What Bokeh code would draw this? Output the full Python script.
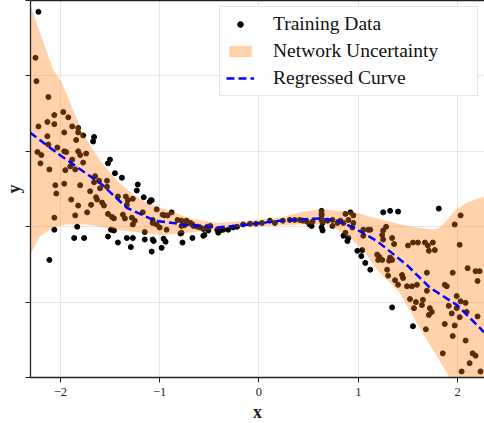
from bokeh.plotting import figure
from bokeh.models import Range1d, FixedTicker, LinearAxis, Legend, LegendItem
from bokeh.embed import file_html
from bokeh.resources import INLINE
import numpy as np

# ---- data ----
data_x = [-2.22, -2.25, -2.24, -2.12, -2.06, -1.97, -1.92, -2.13, -2.06, -2.22, -1.88, -1.82, -1.82, -1.96,
          -2.13, -1.77, -1.66, -1.67, -2.23, -2.19, -2.20, -2.11, -2.12, -2.03, -1.96, -1.94, -1.88, -1.82,
          -1.80, -1.74, -1.77, -1.84, -1.90, -1.95, -1.85, -1.50, -1.52, -1.45, -1.38, -1.22, -1.23, -1.16,
          -1.10, -1.08, -2.05, -2.04, -1.96, -1.89, -1.82, -1.80, -1.70, -1.69, -1.65, -1.61, -1.66, -1.60,
          -1.53, -1.53, -1.64, -1.42, -1.34, -1.32, -1.33, -1.27, -1.63, -1.58, -1.56, -2.06, -1.85, -1.73,
          -1.52, -1.46, -1.48, -1.37, -1.35, -1.28, -1.25, -1.27, -1.17, -1.07, -2.06, -1.83, -1.86, -1.76,
          -1.52, -1.49, -1.46, -1.42, -1.33, -1.27, -1.29, -1.15, -1.15, -1.06, -1.08, -0.96, -0.94, -0.98,
          -0.88, -0.79, -0.77, -0.67, -0.55, -0.51, -0.41, -2.11, -1.09, -1.03, -0.97, -0.95, -0.92, -0.82,
          -0.78, -0.73, -0.69, -0.67, -1.07, -1.03, -1.00, -0.93, -0.78, -0.75, -0.66, -0.62, -0.59, -0.56,
          -0.52, -0.49, -0.42, -0.39, -0.36, -1.07, -0.78, -0.56, -0.31, -0.26, -0.22, -0.16, -0.09, -0.03,
          0.03, 0.11, 0.16, 0.24, 0.31, 0.36, 0.41, 0.44, 0.48, 0.51, 0.53, 0.54, 0.63, 0.63, 0.63, 0.63,
          0.64, 0.63, 0.64, 0.69, 0.74, 0.74, 0.79, 0.82, 0.87, 0.92, 0.95, 0.90, 0.85, 0.95, 0.94, 0.87,
          0.90, 0.85, 0.89, 0.99, 1.04, 1.03, 1.07, 1.12, 1.25, 1.32, 1.40, 1.81, 2.03, 1.97, 1.05, 1.10,
          1.12, 1.05, 1.25, 1.24, 1.25, 1.28, 1.34, 1.36, 1.19, 1.21, 1.24, 1.20, 1.32, 1.34, 1.31, 1.29,
          1.30, 1.37, 1.44, 1.45, 1.40, 1.49, 1.54, 1.59, 1.50, 1.55, 1.60, 1.67, 1.70, 1.75, 1.77, 1.71,
          1.69, 1.89, 1.95, 2.02, 2.10, 2.18, 2.22, 2.20, 1.99, 1.34, 1.55, 1.68, 1.52, 1.58, 1.65, 1.64,
          1.72, 1.74, 1.71, 1.56, 1.69, 2.03, 2.08, 1.91, 1.94, 1.99, 2.09, 1.87, 1.97, 1.95, 2.08, 1.85,
          2.15, 2.18, 2.12, 2.04, 2.23, 2.20, 1.87, 2.02]
data_y = [2.85, 2.24, 1.93, 1.72, 1.48, 1.52, 1.45, 1.39, 1.36, 1.33, 1.33, 1.31, 1.25, 1.25,
          1.20, 1.21, 1.19, 1.13, 0.99, 0.95, 0.84, 0.76, 1.09, 1.05, 1.00, 0.99, 0.89, 1.00,
          0.95, 0.97, 0.85, 1.15, 0.80, 0.75, 0.76, 0.89, 0.84, 0.71, 0.65, 0.56, 0.48, 0.39,
          0.33, 0.35, 0.55, 0.44, 0.57, 0.36, 0.28, 0.55, 0.47, 0.29, 0.67, 0.61, 0.59, 0.51,
          0.61, 0.53, 0.39, 0.40, 0.40, 0.35, 0.29, 0.37, 0.36, 0.32, 0.28, 0.12, 0.15, 0.19,
          0.17, 0.11, 0.13, 0.16, 0.11, 0.12, 0.08, 0.03, 0.19, 0.09, -0.04, 0.00, -0.15, -0.15,
          -0.13, -0.04, -0.05, -0.21, -0.15, -0.15, -0.27, -0.07, -0.17, -0.19, -0.33, -0.16, -0.20, -0.28,
          0.19, -0.09, -0.21, -0.15, -0.11, -0.05, -0.08, -0.44, 0.35, 0.23, 0.16, 0.15, 0.15, 0.09,
          0.08, 0.08, 0.05, 0.03, 0.05, 0.03, -0.01, -0.04, 0.01, 0.02, 0.01, 0.00, -0.01, -0.03,
          0.00, 0.01, -0.04, -0.05, -0.04, -0.17, -0.08, -0.12, -0.04, -0.01, 0.00, 0.03, 0.04, 0.04,
          0.05, 0.08, 0.05, 0.08, 0.09, 0.09, 0.09, 0.08, 0.07, 0.03, 0.01, 0.07, 0.21, 0.17, 0.15, 0.09,
          0.05, -0.01, -0.05, 0.08, 0.09, 0.01, 0.05, 0.08, 0.17, 0.19, 0.15, 0.09, 0.05, 0.05, -0.01, -0.08,
          -0.15, -0.12, -0.19, -0.32, -0.31, -0.39, -0.48, -0.57, 0.19, 0.21, 0.20, 0.24, 0.15, 0.03, -0.04, -0.04,
          -0.04, -0.12, -0.05, -0.11, -0.17, 0.00, -0.15, -0.23, -0.37, -0.40, -0.44, -0.44, -0.41, -0.44, -0.45, -0.57,
          -0.65, -0.71, -0.64, -0.68, -0.77, -0.79, -0.79, -0.77, -0.25, -0.21, -0.21, -0.21, -0.25, -0.21, -0.31, -0.32,
          -0.61, -0.79, -0.61, -0.24, -0.55, -0.59, -0.59, -0.72, -0.92, -1.07, -1.32, -1.36, -0.96, -1.00, -0.97, -1.04,
          -1.08, -1.13, -1.17, -1.08, -0.85, -0.99, -1.01, -1.05, -1.15, -1.08, -1.13, -1.29, -1.31, -1.45, -1.51, -1.68,
          -1.68, -1.71, -1.81, -1.92, -1.92, -1.19, -0.77, -1.20]

upper_x = [-2.306, -2.075, -1.984, -1.772, -1.601, -1.430, -1.269, -1.098, -0.896, -0.695, -0.423,
           -0.091, 0.211, 0.443, 0.634, 0.786, 0.947, 1.148, 1.490, 1.752, 1.823, 1.893, 1.974, 2.095, 2.266]
upper_y = [2.95, 2.09, 1.91, 1.23, 0.88, 0.61, 0.43, 0.29, 0.21, 0.11, 0.05,
           0.08, 0.12, 0.20, 0.23, 0.21, 0.20, 0.12, 0.01, -0.04, -0.01, 0.09, 0.21, 0.32, 0.40]
lower_x = [-2.306, -2.205, -2.075, -1.934, -1.732, -1.601, -1.430, -1.198, -0.997, -0.725, -0.463,
           -0.191, 0.111, 0.443, 0.685, 0.786, 0.916, 1.047, 1.188, 1.420, 1.621, 1.772, 1.923, 2.095, 2.266]
lower_y = [-0.37, -0.13, -0.01, 0.03, 0.03, 0.00, -0.04, -0.08, -0.11, -0.08, -0.04,
           0.00, 0.01, 0.03, 0.03, -0.04, -0.15, -0.31, -0.57, -0.88, -1.35, -1.68, -2.01, -2.55, -3.08]

curve_x = [-2.306, -2.004, -1.581, -1.329, -1.047, -0.765, -0.423, -0.091, 0.211, 0.614,
           0.786, 0.947, 1.188, 1.490, 1.722, 1.994, 2.266]
curve_y = [1.25, 0.95, 0.56, 0.25, 0.08, 0.03, -0.01, 0.03, 0.08, 0.11,
           0.08, -0.01, -0.19, -0.51, -0.81, -1.04, -1.40]

x_ticks = [-2, -1, 0, 1, 2]
x_tick_labels = {-2: "\u22122", -1: "\u22121", 0: "0", 1: "1", 2: "2"}
y_ticks = [-2, -1, 0, 1, 2, 3]

# band on a common grid for varea (piecewise-linear edges)
band_x = sorted(set(upper_x) | set(lower_x))
band_hi = list(np.interp(band_x, upper_x, upper_y))
band_lo = list(np.interp(band_x, lower_x, lower_y))

SERIF = "Liberation Serif"

p = figure(frame_width=454, frame_height=377,
           x_range=Range1d(-2.30, 2.27), y_range=Range1d(-2.0, 3.0),
           output_backend="svg", toolbar_location=None,
           min_border_left=0, min_border_right=0, min_border_top=0, min_border_bottom=0,
           background_fill_color="white", border_fill_color="white")
p.outline_line_color = None

# grid
p.xgrid.ticker = FixedTicker(ticks=x_ticks)
p.ygrid.ticker = FixedTicker(ticks=y_ticks)
for g in (p.xgrid[0], p.ygrid[0]):
    g.grid_line_color = "#e6e6e6"
    g.grid_line_width = 1

# axes
xa = p.xaxis[0]
xa.ticker = FixedTicker(ticks=x_ticks)
xa.major_label_overrides = x_tick_labels
xa.axis_label = "x"
ya = p.yaxis[0]
ya.ticker = FixedTicker(ticks=y_ticks)
ya.axis_label = "y"
ya.major_label_text_color = None
ya.major_label_text_font_size = "1px"
ya.major_label_standoff = 0
for a in (xa, ya):
    a.axis_line_color = "#222222"
    a.axis_line_width = 1.3
    a.major_tick_line_color = "#222222"
    a.major_tick_in = 0
    a.major_tick_out = 5
    a.minor_tick_line_color = None
    a.major_label_text_font = SERIF
    a.major_label_text_color = "#222222" if a is xa else None
    a.axis_label_text_font = SERIF
    a.axis_label_text_font_style = "bold"
    a.axis_label_text_font_size = "18px"
    a.axis_label_text_color = "#222222"
xa.major_label_text_font_size = "12.5px"
xa.major_label_standoff = 5
xa.axis_label_standoff = 3
ya.axis_label_standoff = 2

top = LinearAxis(ticker=FixedTicker(ticks=[]), major_label_text_color=None,
                 major_tick_line_color=None, minor_tick_line_color=None,
                 axis_line_color="#222222", axis_line_width=1.3,
                 major_label_standoff=0)
p.add_layout(top, "above")

# glyphs: points, then the translucent band over them, then the curve
pts = p.scatter(data_x, data_y, size=5, color="black")
band = p.varea(x=band_x, y1=band_lo, y2=band_hi, fill_color="#ff7f0e", fill_alpha=0.35)
line = p.line(curve_x, curve_y, line_color="#0000ff", line_width=2.5, line_dash="8 4")

legend = Legend(items=[LegendItem(label="Training Data", renderers=[pts]),
                       LegendItem(label="Network Uncertainty", renderers=[band]),
                       LegendItem(label="Regressed Curve", renderers=[line])],
                location="top_right")
legend.label_text_font = SERIF
legend.label_text_font_size = "19.5px"
legend.label_text_color = "#111111"
legend.label_height = 21
legend.label_width = 198
legend.glyph_width = 28
legend.glyph_height = 14
legend.label_standoff = 19
legend.spacing = 5
legend.padding = 6
legend.margin = 6
legend.border_line_color = "#cccccc"
legend.border_line_width = 1
legend.background_fill_color = "white"
legend.background_fill_alpha = 0.9
p.add_layout(legend, "center")

open("out.html", "w").write(file_html(p, INLINE))
